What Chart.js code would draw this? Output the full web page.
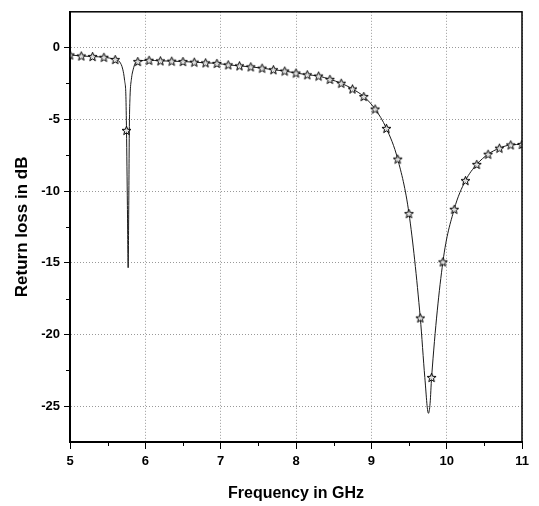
<!DOCTYPE html>
<html>
<head>
<meta charset="utf-8">
<script src="https://cdn.jsdelivr.net/npm/chart.js@4.4.1/dist/chart.umd.min.js"></script>
<style>
  html, body { margin: 0; padding: 0; background: #fff; }
  #wrap { width: 539px; height: 506px; }
</style>
</head>
<body>
<div id="wrap"><canvas id="rlChart"></canvas></div>
<script>
// marker positions (stars)
const markerFreq = [5.0, 5.15, 5.3, 5.45, 5.6, 5.75, 5.9, 6.05, 6.2, 6.35, 6.5, 6.65, 6.8, 6.95,
  7.1, 7.25, 7.4, 7.55, 7.7, 7.85, 8.0, 8.15, 8.3, 8.45, 8.6, 8.75, 8.9, 9.05, 9.2, 9.35,
  9.5, 9.65, 9.8, 9.95, 10.1, 10.25, 10.4, 10.55, 10.7, 10.85, 11.0];
const markerLoss = [-0.51, -0.58, -0.62, -0.67, -0.83, -5.77, -0.97, -0.88, -0.92, -0.94, -0.97, -1.01, -1.06, -1.1,
  -1.2, -1.27, -1.34, -1.43, -1.54, -1.63, -1.77, -1.89, -1.98, -2.21, -2.48, -2.88, -3.41, -4.28, -5.63, -7.77,
  -11.57, -18.85, -23.0, -14.94, -11.27, -9.27, -8.14, -7.43, -7.01, -6.78, -6.75];

// the thin continuous curve
const lineFreq = [5.0, 5.15, 5.3, 5.45, 5.6, 5.66, 5.7, 5.725, 5.742, 5.75, 5.762, 5.772, 5.78, 5.788,
  5.797, 5.815, 5.84, 5.865, 5.9, 6.05, 6.2, 6.35, 6.5, 6.65, 6.8, 6.95, 7.1, 7.25, 7.4, 7.55,
  7.7, 7.85, 8.0, 8.15, 8.3, 8.45, 8.6, 8.75, 8.9, 9.05, 9.2, 9.35, 9.5, 9.65, 9.71, 9.758,
  9.78, 9.8, 9.95, 10.1, 10.25, 10.4, 10.55, 10.7, 10.85, 11.0];
const lineLoss = [-0.51, -0.58, -0.62, -0.67, -0.83, -1.0, -1.5, -2.3, -3.4, -5.77, -11.0, -15.35, -11.0, -5.5,
  -3.4, -2.2, -1.5, -1.1, -0.97, -0.88, -0.92, -0.94, -0.97, -1.01, -1.06, -1.1, -1.2, -1.27, -1.34, -1.43,
  -1.54, -1.63, -1.77, -1.89, -1.98, -2.21, -2.48, -2.88, -3.41, -4.28, -5.63, -7.77, -11.57, -18.85, -23.0, -25.5,
  -24.8, -23.0, -14.94, -11.27, -9.27, -8.14, -7.43, -7.01, -6.78, -6.75];

const xTicks = [5, 6, 7, 8, 9, 10, 11];
const yTicks = [-25, -20, -15, -10, -5, 0];
const xMinor = [5.5, 6.5, 7.5, 8.5, 9.5, 10.5];
const yMinor = [-22.5, -17.5, -12.5, -7.5, -2.5];

const FONT = "'Liberation Sans', Arial, Helvetica, sans-serif";

// open five-point star used as the marker
function makeStar(size) {
  const c = document.createElement("canvas");
  c.width = size;
  c.height = size;
  const g = c.getContext("2d");
  const cx = size / 2, cy = size / 2 + 0.4;
  const ro = size / 2 - 0.8, ri = ro * 0.42;
  g.beginPath();
  for (let i = 0; i < 10; i++) {
    const r = i % 2 === 0 ? ro : ri;
    const a = -Math.PI / 2 + (i * Math.PI) / 5;
    const px = cx + r * Math.cos(a), py = cy + r * Math.sin(a);
    if (i === 0) g.moveTo(px, py); else g.lineTo(px, py);
  }
  g.closePath();
  g.fillStyle = "rgba(235,235,235,0.9)";
  g.fill();
  g.lineWidth = 1;
  g.strokeStyle = "#000";
  g.stroke();
  return c;
}
const star = makeStar(11);

// minor ticks + frame round the plot
const framePlugin = {
  id: "frame",
  afterDraw(chart) {
    const { ctx, chartArea: a, scales } = chart;
    ctx.save();
    ctx.strokeStyle = "#000";
    ctx.lineWidth = 1;
    xMinor.forEach((v) => {
      const px = Math.round(scales.x.getPixelForValue(v)) + 0.5;
      ctx.beginPath();
      ctx.moveTo(px, a.bottom);
      ctx.lineTo(px, a.bottom + 4);
      ctx.stroke();
    });
    yMinor.forEach((v) => {
      const py = Math.round(scales.y.getPixelForValue(v)) + 0.5;
      ctx.beginPath();
      ctx.moveTo(a.left - 4, py);
      ctx.lineTo(a.left, py);
      ctx.stroke();
    });
    ctx.lineWidth = 1.5;
    ctx.strokeRect(a.left, a.top, a.right - a.left, a.bottom - a.top);
    ctx.restore();
  },
};

new Chart(document.getElementById("rlChart"), {
  type: "scatter",
  data: {
    datasets: [
      {
        label: "curve",
        data: lineFreq.map((f, i) => ({ x: f, y: lineLoss[i] })),
        showLine: true,
        borderColor: "#1a1a1a",
        borderWidth: 1,
        pointRadius: 0,
        cubicInterpolationMode: "monotone",
        order: 2,
      },
      {
        label: "markers",
        data: markerFreq.map((f, i) => ({ x: f, y: markerLoss[i] })),
        showLine: false,
        pointStyle: star,
        pointRadius: 5,
        order: 1,
      },
    ],
  },
  options: {
    responsive: true,
    maintainAspectRatio: false,
    animation: false,
    layout: { padding: { top: 7, right: 17, left: 0, bottom: 0 } },
    plugins: { legend: { display: false }, tooltip: { enabled: false } },
    scales: {
      x: {
        type: "linear",
        min: 5,
        max: 11,
        afterBuildTicks: (s) => { s.ticks = xTicks.map((v) => ({ value: v })); },
        afterFit: (s) => { s.height = 64; },
        grid: {
          color: "#999",
          lineWidth: 1,
          tickColor: "#000",
          tickLength: 7,
          tickBorderDash: [],
        },
        border: { color: "#000", width: 2, dash: [1, 2] },
        ticks: {
          color: "#000",
          padding: 5,
          maxRotation: 0,
          font: { family: FONT, size: 13, weight: "bold" },
        },
        title: {
          display: true,
          text: "Frequency in GHz",
          color: "#000",
          padding: { top: 0, bottom: 3 },
          font: { family: FONT, size: 16, weight: "bold" },
        },
      },
      y: {
        type: "linear",
        min: -27.5,
        max: 2.5,
        afterBuildTicks: (s) => { s.ticks = yTicks.map((v) => ({ value: v })); },
        afterFit: (s) => { s.width = 70; },
        grid: {
          color: "#999",
          lineWidth: 1,
          tickColor: "#000",
          tickLength: 6,
          tickBorderDash: [],
        },
        border: { color: "#000", width: 2, dash: [1, 2] },
        ticks: {
          color: "#000",
          padding: 4,
          font: { family: FONT, size: 13, weight: "bold" },
        },
        title: {
          display: true,
          text: "Return loss in dB",
          color: "#000",
          padding: { top: 12, bottom: 0 },
          font: { family: FONT, size: 17, weight: "bold" },
        },
      },
    },
  },
  plugins: [framePlugin],
});
</script>
</body>
</html>
